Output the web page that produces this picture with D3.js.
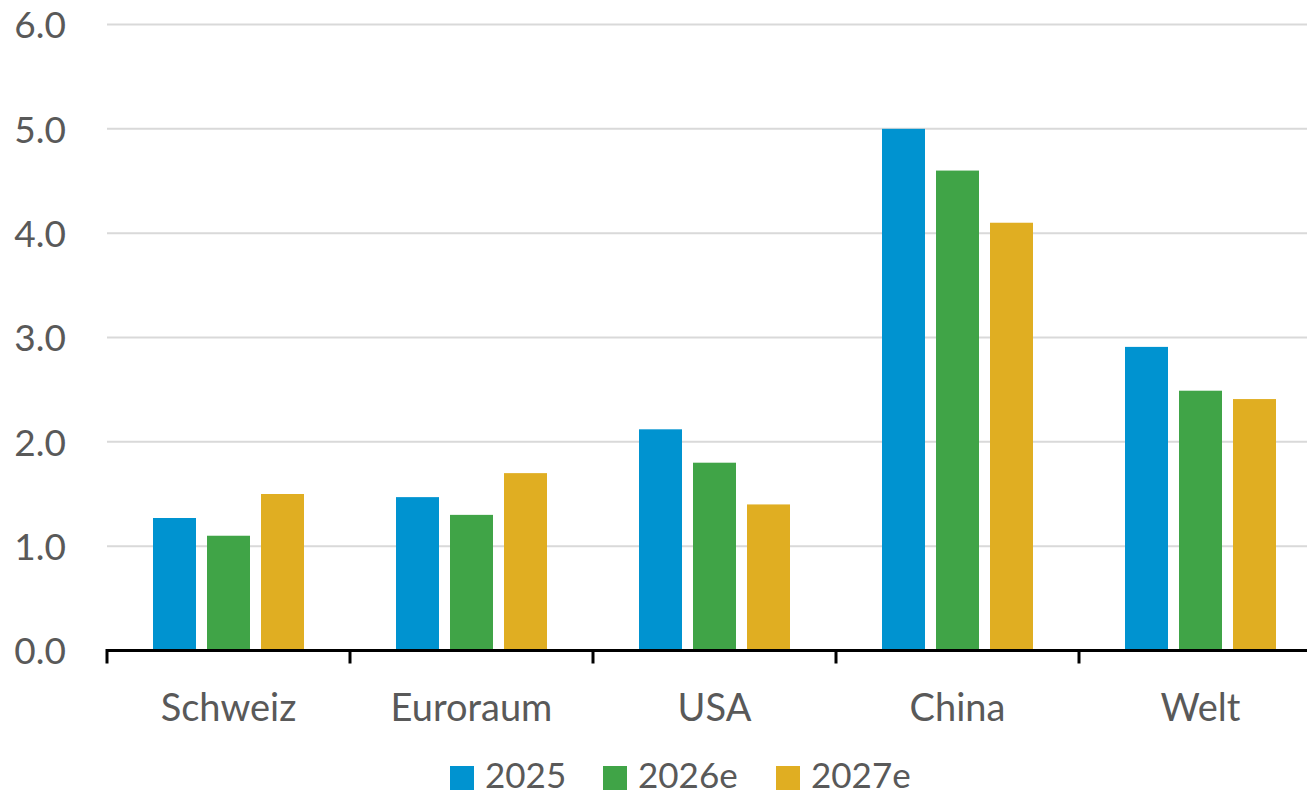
<!DOCTYPE html>
<html>
<head>
<meta charset="utf-8">
<script src="https://cdn.jsdelivr.net/npm/d3@7"></script>
<style>
  body { margin: 0; background: #fff; }
  svg { display: block; font-family: Lato, "Open Sans", sans-serif; }
</style>
</head>
<body>
<script>
// Chart data
const categories = ['Schweiz', 'Euroraum', 'USA', 'China', 'Welt'];
const seriesNames = ['2025', '2026e', '2027e'];
const values2025 = [1.27, 1.47, 2.12, 5.0, 2.91];
const values2026e = [1.1, 1.3, 1.8, 4.6, 2.49];
const values2027e = [1.5, 1.7, 1.4, 4.1, 2.41];
const yTicks = [0, 1, 2, 3, 4, 5, 6];
const colors = ['#0093d0', '#40a447', '#e0ae22'];

const seriesValues = [values2025, values2026e, values2027e];

const width = 1307;
const height = 796;
const fontFamily = 'Lato, "Open Sans", sans-serif';

const svg = d3.select('body')
  .append('svg')
  .attr('width', width)
  .attr('height', height);

// Scales
const x0 = d3.scaleBand()
  .domain(categories)
  .range([107, 1322])
  .padding(0);

const x1 = d3.scaleBand()
  .domain(seriesNames)
  .range([46, 197])
  .paddingInner(11 / 54)
  .paddingOuter(0);

const y = d3.scaleLinear()
  .domain([0, 6])
  .range([650.5, 24.5]);

// Gridlines
svg.append('g')
  .selectAll('line')
  .data(yTicks.filter((d) => d > 0))
  .enter()
  .append('line')
  .attr('x1', 107)
  .attr('x2', width)
  .attr('y1', (d) => y(d))
  .attr('y2', (d) => y(d))
  .style('stroke', '#d9d9d9')
  .style('stroke-width', 2);

// Y axis labels
const yAxis = d3.axisLeft(y)
  .tickValues(yTicks)
  .tickFormat(d3.format('.1f'))
  .tickSize(0)
  .tickPadding(0);

svg.append('g')
  .attr('transform', 'translate(66, 0)')
  .call(yAxis)
  .call((g) => g.select('.domain').remove())
  .selectAll('text')
  .attr('dy', '0.36em')
  .style('font-family', fontFamily)
  .style('font-size', '37px')
  .style('fill', '#595959');

// Bars
const groups = svg.append('g')
  .selectAll('g')
  .data(categories)
  .enter()
  .append('g')
  .attr('transform', (d) => `translate(${x0(d)}, 0)`);

groups.selectAll('rect')
  .data((d, i) => seriesNames.map((s, j) => ({ s, v: seriesValues[j][i], c: colors[j] })))
  .enter()
  .append('rect')
  .attr('x', (d) => x1(d.s))
  .attr('y', (d) => y(d.v))
  .attr('width', x1.bandwidth())
  .attr('height', (d) => y(0) - y(d.v))
  .style('fill', (d) => d.c);

// X axis
const xAxis = d3.axisBottom(x0)
  .tickSize(0)
  .tickPadding(0);

const xg = svg.append('g')
  .attr('transform', `translate(0, ${y(0)})`)
  .call(xAxis);

xg.select('.domain')
  .attr('d', `M107,0H${width}`)
  .style('stroke', '#000')
  .style('stroke-width', 3);

xg.selectAll('text')
  .attr('y', 70)
  .attr('dy', 0)
  .style('font-family', fontFamily)
  .style('font-size', '38px')
  .style('fill', '#595959');

// Category separator ticks
svg.append('g')
  .selectAll('line')
  .data(categories)
  .enter()
  .append('line')
  .attr('x1', (d) => x0(d))
  .attr('x2', (d) => x0(d))
  .attr('y1', y(0) - 1.5)
  .attr('y2', y(0) + 13)
  .style('stroke', '#000')
  .style('stroke-width', 3);

// Legend
const legendX = [450, 603, 776];
const legend = svg.selectAll('.legend')
  .data(seriesNames)
  .enter()
  .append('g')
  .attr('class', 'legend')
  .attr('transform', (_, i) => `translate(${legendX[i]}, 766)`);

legend.append('rect')
  .attr('width', 24)
  .attr('height', 24)
  .style('fill', (_, i) => colors[i]);

legend.append('text')
  .attr('x', 35)
  .attr('y', 22)
  .style('font-family', fontFamily)
  .style('font-size', '35px')
  .style('fill', '#595959')
  .text((d) => d);
</script>
</body>
</html>
